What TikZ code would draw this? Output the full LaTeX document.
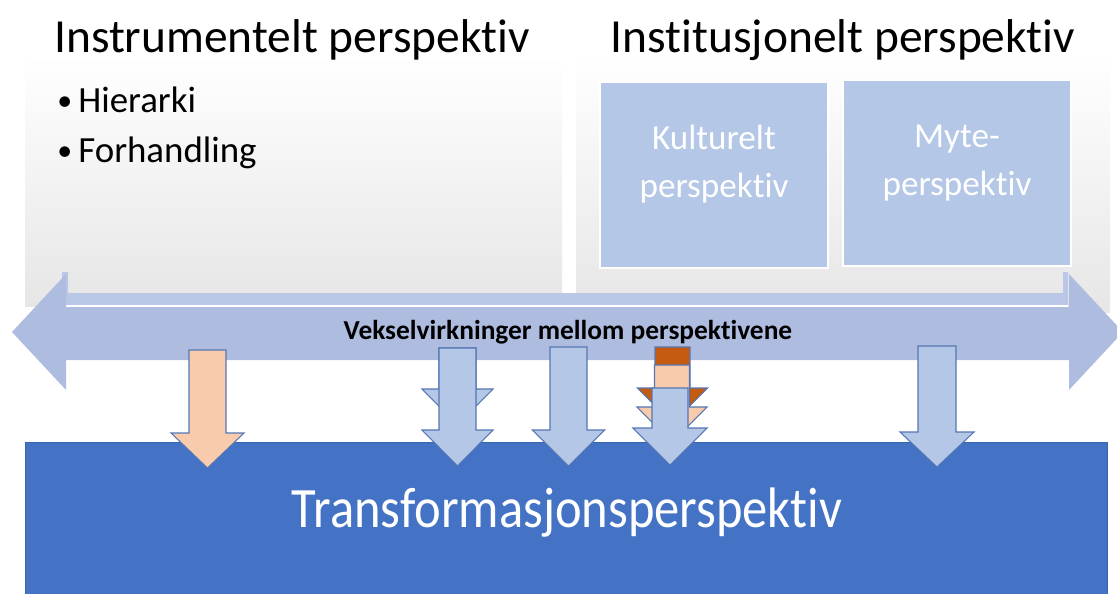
\documentclass[tikz,border=0pt]{standalone}
\usepackage{fontspec}
\setmainfont{Carlito}[Ligatures=NoCommon]
\definecolor{panelgray}{HTML}{E6E6E6}
\definecolor{softblue}{HTML}{B4C7E7}
\definecolor{bandblue}{HTML}{AEBCDF}
\definecolor{stripblue}{HTML}{BAC7E6}
\definecolor{edgeblue}{HTML}{5577B3}
\definecolor{deepblue}{HTML}{4472C4}
\definecolor{deepedge}{HTML}{3A64B0}
\definecolor{peach}{HTML}{F8CBAD}
\definecolor{rust}{HTML}{C55A11}
% block arrow pointing down: fill, centre x, shaft half width, head half width, top, head y, tip y
\newcommand\blockarr[7]{%
  \draw[arrowline, fill=#1] (#2-#3,#5) -- (#2+#3,#5) -- (#2+#3,#6) -- (#2+#4,#6)
    -- (#2,#7) -- (#2-#4,#6) -- (#2-#3,#6) -- cycle;}
\begin{document}
\begin{tikzpicture}[x=0.02cm, y=-0.02cm,
  arrowline/.style={draw=edgeblue, line width=0.6pt, line join=miter},
  title/.style={font=\fontsize{27}{32}\selectfont, anchor=base, inner sep=0pt},
  bullettext/.style={font=\fontsize{21}{25}\selectfont, anchor=base west, inner sep=0pt},
  bulletmark/.style={font=\fontsize{17}{20}\selectfont, anchor=base west, inner sep=0pt},
  subbox/.style={fill=softblue, draw=white, line width=1.2pt, minimum width=4.56cm, minimum height=3.72cm, inner sep=0pt},
  subtext/.style={font=\fontsize{20}{27.2}\selectfont, text=white, align=center, inner sep=0pt}]
\useasboundingbox (0,0) rectangle (1117,593);
\clip (0,0) rectangle (1117,593);

% two shaded panels
\shade[top color=white, bottom color=panelgray] (25,55) rectangle (562,306);
\shade[top color=white, bottom color=panelgray] (576,55) rectangle (1110,312);

% titles
\node[title] (instr) at (292,52) {Instrumentelt perspektiv};
\node[title] (instit) at (843,52) {Institusjonelt perspektiv};

% bullet list
\node[bulletmark] (b1) at (57,110) {•};
\node[bullettext] (hier) at (78,112) {Hierarki};
\node[bulletmark] (b2) at (57,160) {•};
\node[bullettext] (forh) at (78,162) {Forhandling};

% sub-perspectives
\node[subbox] (kult) at (714,175) {};
\node[subbox] (myte) at (957,173) {};
\node[subtext, anchor=base] (kulttxt) at (714,197) {Kulturelt\\perspektiv};
\node[subtext, anchor=base] (mytetxt) at (957,195) {Myte-\\perspektiv};

% pale strip behind the band
\fill[stripblue] (62,272) -- (68,272) -- (68,293) -- (1063,293) -- (1063,272)
  -- (1068,272) -- (1068,305) -- (62,305) -- cycle;
\draw[white, line width=0.8pt] (62,306) -- (1068,306);

% double-headed band
\fill[bandblue] (12,332) -- (66,274) -- (66,307) -- (1069,307) -- (1069,274)
  -- (1123,332) -- (1069,390) -- (1069,360) -- (66,360) -- (66,390) -- cycle;

% transformation block
\node[fill=deepblue, draw=deepedge, line width=0.6pt, minimum width=21.64cm,
  minimum height=3.4cm, anchor=north west, inner sep=0pt] (trans) at (25,442) {};

% arrows down into the block
\blockarr{peach}{207.5}{18.5}{36.5}{350}{433}{468}
\blockarr{softblue}{457.5}{18.5}{35.5}{348}{389}{425}
\blockarr{softblue}{457.5}{18.5}{35.5}{348}{430}{466}
\blockarr{softblue}{568.5}{18.5}{36}{347}{430}{466}
\blockarr{rust}{672.5}{17.5}{35}{347}{388}{423}
\blockarr{peach}{672}{17.5}{35}{365}{407}{442}
\blockarr{softblue}{670}{18}{37}{388}{428}{465}
\blockarr{softblue}{937}{19}{37}{346}{432}{467}

% labels
\node[font=\bfseries\fontsize{15.6}{18}\selectfont, anchor=base, inner sep=0pt] (veksel)
  at (568,339) {Vekselvirkninger mellom perspektivene};
\node[font=\fontsize{32.5}{38}\selectfont, text=white, anchor=base, inner sep=0pt] (transtxt)
  at (567,527) {\scalebox{0.885}[1]{Transformasjonsperspektiv}};
\end{tikzpicture}
\end{document}
